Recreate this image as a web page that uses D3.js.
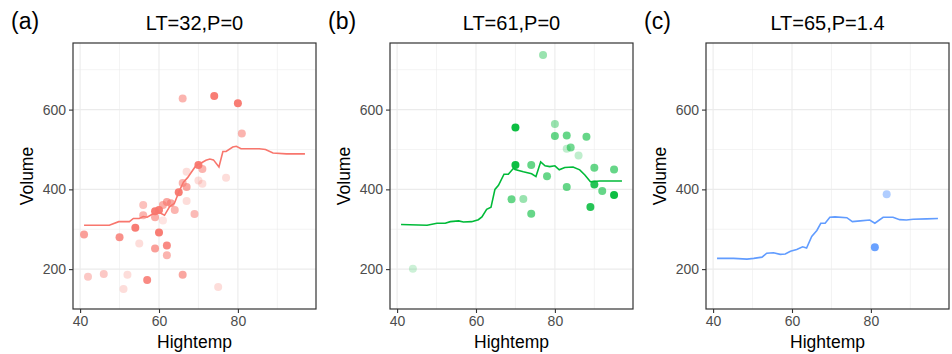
<!DOCTYPE html>
<html><head><meta charset="utf-8">
<script src="https://cdn.jsdelivr.net/npm/d3@7"></script>
<style>
body{margin:0;background:#fff;}
text{font-family:"Liberation Sans",Arial,Helvetica,sans-serif;}
</style></head>
<body><svg id="c" width="952" height="354"></svg>
<script>
// ---------- data ----------
const tags = ["(a)", "(b)", "(c)"];
const titles = ["LT=32,P=0", "LT=61,P=0", "LT=65,P=1.4"];
const colors = ["#F8766D", "#00BA38", "#619CFF"];
const xTicks = [40, 60, 80];
const yTicks = [200, 400, 600];
const xMinor = [50, 70, 90];
const yMinor = [300, 500, 700];
const xDomain = [38.2, 99.8];
const yDomain = [100, 767];

// panel (a) points
const aX = [66,74,80,81,41,42,46,50,51,52,54,55,56,56,57,59,59,59,60,60,61,61,62,62,62,63,64,65,66,67,67,67,66,69,70,70,71,71,77,75];
const aY = [628,634,616,540,287,181,188,280,150,186,304,264,361,335,173,330,252,345,348,292,322,361,368,259,235,365,348,393,416,444,406,371,186,338,461,422,451,414,429,155];
const aA = [0.55,0.95,0.95,0.55,0.7,0.4,0.4,0.8,0.25,0.25,0.95,0.25,0.45,0.55,0.85,0.6,0.7,0.95,0.95,0.95,0.2,0.6,0.65,0.85,0.55,0.65,0.55,0.95,0.55,0.25,0.65,0.25,0.65,0.5,0.95,0.25,0.55,0.25,0.25,0.25];
// panel (a) smooth line
const aLX = [41,47.4,49.8,52.5,53.5,55,56,57,58.4,60.1,61.4,62.7,63.9,65.2,66.2,67.3,68.2,69.4,70.7,71.9,72.9,73.8,75.2,76.2,77,78.7,79.6,80.8,82,85.4,87,88.9,92.3,97];
const aLY = [310,310,319,319,327,327,332,330,338,342,335,357,365,397,418,430,443,460,466,473,476,474,456,495,495,506,508,502,502,502,500,491,489,489];

// panel (b) points
const bX = [77,70,80,80,83,88,83,84,86,70,74,78,90,95,83,90,92,95,89,69,72,74,44];
const bY = [737,555,564,534,535,532,502,505,485,461,461,433,454,450,406,412,396,386,356,375,376,339,201];
const bA = [0.4,0.95,0.4,0.6,0.6,0.6,0.25,0.55,0.25,0.95,0.6,0.6,0.6,0.6,0.6,0.85,0.6,0.95,0.85,0.6,0.4,0.6,0.2];
const bLX = [41,47.6,50.1,52.2,53.5,55.6,56.8,58.9,60.6,61.5,62.7,63.8,64.8,65.7,67.1,68.2,69.5,69.9,72,74.1,75.2,76.4,77.5,78.7,80,81.1,82.5,84.6,86.3,87.6,89,91.4,97];
const bLY = [312,310,315,315,319,321,318,319,324,331,350,355,400,410,438,438,453,450,444,439,432,469,459,457,459,449,455,456,449,436,419,421,421];

// panel (c) points
const cX = [84,81];
const cY = [388,255];
const cA = [0.5,0.95];
const cLX = [41,45.2,48.6,50.3,52.4,53.6,55.3,57,58.3,59.6,61.2,62.7,63.7,65,66.3,67.3,68.4,69.6,70.9,73.9,75.3,77.3,79.7,81,83.1,85.6,87.3,89,90.7,94.1,97];
const cLY = [227,227,225,227,230,240,241,237,238,245,249,256,253,282,297,315,315,330,331,329,319,321,323,315,330,330,324,323,325,326,327];

const panels = [
  {x:aX, y:aY, a:aA, lx:aLX, ly:aLY},
  {x:bX, y:bY, a:bA, lx:bLX, ly:bLY},
  {x:cX, y:cY, a:cA, lx:cLX, ly:cLY}
];

// ---------- layout ----------
const svg = d3.select("#c");
const lefts = [73, 390, 706];
const pw = 243, pTop = 43, pBottom = 309;

panels.forEach((p, i) => {
  const L = lefts[i];
  const x = d3.scaleLinear().domain(xDomain).range([L, L + pw]);
  const y = d3.scaleLinear().domain(yDomain).range([pBottom, pTop]);
  const g = svg.append("g");

  // grid
  g.selectAll(".xm").data(xMinor).enter().append("line")
    .attr("x1", d => x(d)).attr("x2", d => x(d)).attr("y1", pTop).attr("y2", pBottom)
    .attr("stroke", "#ebebeb").attr("stroke-width", 0.6);
  g.selectAll(".ym").data(yMinor).enter().append("line")
    .attr("y1", d => y(d)).attr("y2", d => y(d)).attr("x1", L).attr("x2", L + pw)
    .attr("stroke", "#ebebeb").attr("stroke-width", 0.6);
  g.selectAll(".xM").data(xTicks).enter().append("line")
    .attr("x1", d => x(d)).attr("x2", d => x(d)).attr("y1", pTop).attr("y2", pBottom)
    .attr("stroke", "#ebebeb").attr("stroke-width", 1.1);
  g.selectAll(".yM").data(yTicks).enter().append("line")
    .attr("y1", d => y(d)).attr("y2", d => y(d)).attr("x1", L).attr("x2", L + pw)
    .attr("stroke", "#ebebeb").attr("stroke-width", 1.1);

  // points
  g.selectAll("circle").data(p.x.map((d, k) => ({x: d, y: p.y[k], a: p.a[k]})))
    .enter().append("circle")
    .attr("cx", d => x(d.x)).attr("cy", d => y(d.y)).attr("r", 4)
    .attr("fill", colors[i]).attr("fill-opacity", d => d.a);

  // line
  const line = d3.line().x(d => x(d[0])).y(d => y(d[1]));
  g.append("path").datum(p.lx.map((d, k) => [d, p.ly[k]]))
    .attr("d", line).attr("fill", "none").attr("stroke", colors[i]).attr("stroke-width", 1.6);

  // border
  g.append("rect").attr("x", L).attr("y", pTop).attr("width", pw).attr("height", pBottom - pTop)
    .attr("fill", "none").attr("stroke", "#333333").attr("stroke-width", 1.2);

  // axes
  const xa = g.append("g").attr("transform", `translate(0,${pBottom})`)
    .call(d3.axisBottom(x).tickValues(xTicks).tickSize(4).tickPadding(3));
  const ya = g.append("g").attr("transform", `translate(${L},0)`)
    .call(d3.axisLeft(y).tickValues(yTicks).tickSize(4).tickPadding(3));
  [xa, ya].forEach(a => {
    a.select(".domain").remove();
    a.selectAll("line").attr("stroke", "#333333").attr("stroke-width", 1.1);
    a.selectAll("text").attr("fill", "#4d4d4d").style("font-size", "14px");
  });

  // titles
  g.append("text").attr("x", L + pw / 2).attr("y", 30).attr("text-anchor", "middle")
    .style("font-size", "20px").attr("fill", "#000").text(titles[i]);
  g.append("text").attr("x", L - 62).attr("y", 29).attr("text-anchor", "start")
    .style("font-size", "23px").attr("fill", "#000").text(tags[i]);
  g.append("text").attr("x", L + pw / 2).attr("y", 348).attr("text-anchor", "middle")
    .style("font-size", "17.5px").attr("fill", "#000").text("Hightemp");
  g.append("text").attr("transform", `translate(${L - 40},${(pTop + pBottom) / 2}) rotate(-90)`)
    .attr("text-anchor", "middle").style("font-size", "17.5px").attr("fill", "#000").text("Volume");
});
</script></body></html>
